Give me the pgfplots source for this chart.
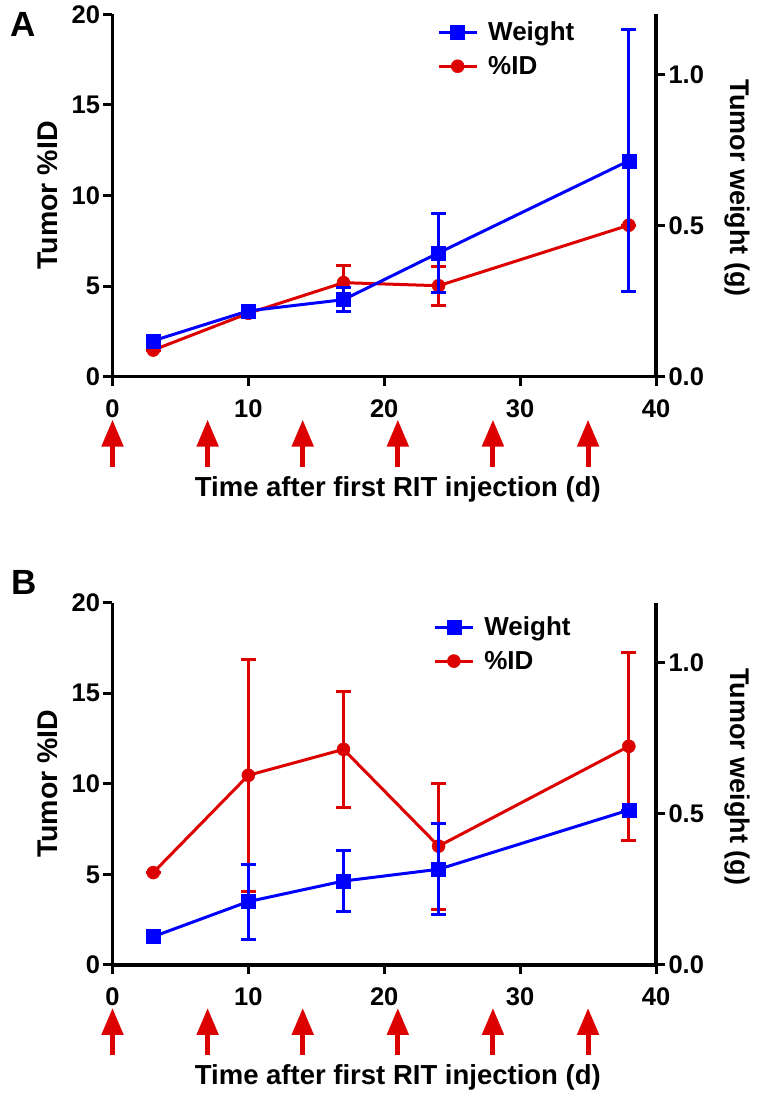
\documentclass[border=0pt]{standalone}
\usepackage{pgfplots}
\pgfplotsset{compat=1.18}
\usepackage{fontspec}
\setmainfont{Liberation Sans}
\usetikzlibrary{arrows.meta}
\definecolor{cblue}{RGB}{0,0,255}
\definecolor{cred}{RGB}{220,0,0}

\pgfplotsset{
  base/.style={scale only axis, width=543.5pt, height=362.4pt,
    xmin=0, xmax=40, clip=false, tick align=outside,
    major tick length=9pt, tick style={line width=3pt, black},
    axis line style={-, line width=3.5pt},
    /pgf/number format/assume math mode=true,
    ticklabel style={font=\fontsize{25.5}{28}\selectfont\bfseries},
    legend image code/.code={\draw[mark repeat=2,mark phase=2,##1] plot coordinates {(0pt,0pt) (19pt,0pt) (38pt,0pt)};},
  },
  leftax/.style={base, ymin=0, ymax=20, ytick={0,5,10,15,20}, xtick={0,10,20,30,40},
    axis x line*=bottom, axis y line*=left,
    every axis y label/.style={at={(axis description cs:-0.119,0.5)}, anchor=center, rotate=90, font=\fontsize{28.5}{32}\selectfont\bfseries},
    every axis x label/.style={at={(axis description cs:0.525,-0.311)}, anchor=center, font=\fontsize{27.5}{30}\selectfont\bfseries},
    ylabel={Tumor \%ID}, xlabel={Time after first RIT injection (d)},
  },
  rightax/.style={base, ymin=0, ymax=1.2, ytick={0,0.5,1},
    axis x line=none, axis y line*=right,
    yticklabel style={/pgf/number format/.cd, fixed, fixed zerofill, precision=1},
    every axis y label/.style={at={(axis description cs:1.149,0.52)}, anchor=center, rotate=-90, font=\fontsize{27}{30}\selectfont\bfseries},
    ylabel={Tumor weight (g)},
    legend style={draw=none, fill=none, font=\fontsize{26}{30}\selectfont\bfseries, row sep=14pt, inner sep=0pt,
      nodes={inner sep=0pt}, cells={anchor=west},
      /tikz/every odd column/.append style={column sep=10pt}},
  },
  redser/.style={cred, line width=3pt, mark=*, mark size=6.5pt, mark options={solid, line width=0.5pt},
    error bars/.cd, y dir=both, y explicit, error bar style={line width=3pt, cred},
    error mark options={rotate=90, line width=3pt, mark size=7.5pt, cred}},
  blueser/.style={cblue, line width=3pt, mark=square*, mark size=7pt, mark options={solid, line width=0.5pt},
    error bars/.cd, y dir=both, y explicit, error bar style={line width=3pt, cblue},
    error mark options={rotate=90, line width=3pt, mark size=7.5pt, cblue}},
  arrowser/.style={cred, line width=5pt, -{Triangle[width=21pt,length=27pt]}, quiver={u=0,v=2.6}, mark=none, forget plot},
}

\pgfplotstableread{
x y e
3 1.47 0
10 3.5 0
17 5.19 0.97
24 5.02 1.08
38 8.36 0
}\redA
\pgfplotstableread{
x y e
3 0.119 0
10 0.218 0
17 0.255 0.039
24 0.41 0.13
38 0.715 0.434
}\blueA
\pgfplotstableread{
x y e
3 5.1 0
10 10.47 6.4
17 11.9 3.2
24 6.56 3.48
38 12.07 5.2
}\redB
\pgfplotstableread{
x y e
3 0.094 0
10 0.21 0.124
17 0.278 0.1
24 0.317 0.15
38 0.513 0
}\blueB

\begin{document}
\begin{tikzpicture}
\useasboundingbox (0,0) rectangle (757pt,1101pt);

% Panel A
\begin{axis}[leftax, at={(112.5pt,724.3pt)}, anchor=south west,
  xticklabel style={anchor=north, yshift=-10pt}]
\addplot[arrowser] coordinates {(0,-4.97) (7,-4.97) (14,-4.97) (21,-4.97) (28,-4.97) (35,-4.97)};
\addplot[redser] table[x=x, y=y, y error=e] {\redA};
\end{axis}
\begin{axis}[rightax, at={(112.5pt,724.3pt)}, anchor=south west,
  legend style={at={(axis description cs:0.597,0.904)}, anchor=west}]
\addplot[blueser] table[x=x, y=y, y error=e] {\blueA};
\addlegendentry{Weight}
\addlegendimage{cred, line width=3pt, mark=*, mark size=6.5pt, mark options={solid, line width=0.5pt}}
\addlegendentry{\%ID}
\end{axis}

% Panel B
\begin{axis}[leftax, at={(112.5pt,136pt)}, anchor=south west,
  xticklabel style={anchor=north, yshift=-10pt}]
\addplot[arrowser] coordinates {(0,-4.97) (7,-4.97) (14,-4.97) (21,-4.97) (28,-4.97) (35,-4.97)};
\addplot[redser] table[x=x, y=y, y error=e] {\redB};
\end{axis}
\begin{axis}[rightax, at={(112.5pt,136pt)}, anchor=south west,
  legend style={at={(axis description cs:0.59,0.886)}, anchor=west}]
\addplot[blueser] table[x=x, y=y, y error=e] {\blueB};
\addlegendentry{Weight}
\addlegendimage{cred, line width=3pt, mark=*, mark size=6.5pt, mark options={solid, line width=0.5pt}}
\addlegendentry{\%ID}
\end{axis}

\node[font=\fontsize{35}{35}\selectfont\bfseries] at (23.5pt,1076.5pt) {A};
\node[font=\fontsize{35}{35}\selectfont\bfseries] at (24pt,519pt) {B};
\end{tikzpicture}
\end{document}
